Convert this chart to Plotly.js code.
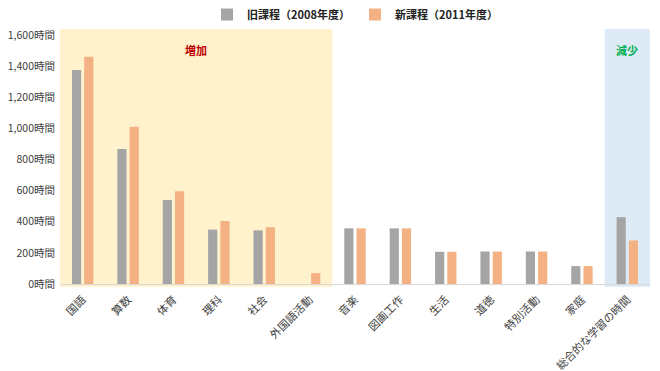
<!DOCTYPE html>
<html><head><meta charset="utf-8">
<script src="https://cdn.plot.ly/plotly-3.0.1.min.js"></script>
<style>body{margin:0;padding:0;background:#fff}#chart{width:660px;height:371px}</style>
</head><body><div id="chart"></div>
<script>
const categories = ['国語','算数','体育','理科','社会','外国語活動','音楽','図画工作','生活','道徳','特別活動','家庭','総合的な学習の時間'];
const oldHours = [1377, 869, 540, 350, 345, 0, 358, 358, 207, 209, 209, 115, 430];
const newHours = [1461, 1011, 597, 405, 365, 70, 358, 358, 207, 209, 209, 115, 280];
const oldName = '旧課程（2008年度）';
const newName = '新課程（2011年度）';
const yTicks = [0, 200, 400, 600, 800, 1000, 1200, 1400, 1600];
const yTickText = ['0時間', '200時間', '400時間', '600時間', '800時間', '1,000時間', '1,200時間', '1,400時間', '1,600時間'];

const font = '"Noto Sans CJK JP", "Noto Sans", sans-serif';
const data = [
  {type:'bar', name:oldName, x:categories, y:oldHours, marker:{color:'#A5A5A5'}, hoverinfo:'none'},
  {type:'bar', name:newName, x:categories, y:newHours, marker:{color:'#F4B183'}, hoverinfo:'none'}
];
const layout = {
  width:660, height:371,
  margin:{l:60, r:10, t:27, b:87},
  paper_bgcolor:'#fff', plot_bgcolor:'rgba(0,0,0,0)',
  font:{family:font, size:11, color:'#404040'},
  barmode:'group', bargap:0.46, bargroupgap:0.25,
  showlegend:true,
  legend:{orientation:'h', x:0.5, xanchor:'center', y:1.0, yanchor:'top', yref:'container',
          font:{family:font, size:11, color:'#222', weight:'bold'}, itemwidth:30, traceorder:'normal'},
  xaxis:{type:'category', tickangle:-45, showgrid:false, showline:true, linecolor:'#D9D9D9', linewidth:1,
         ticks:'', ticklabelstandoff:4, tickfont:{family:font, size:11, color:'#404040'}, range:[-0.5, 12.5], fixedrange:true},
  yaxis:{range:[0,1640], tickmode:'array', tickvals:yTicks, ticktext:yTickText, showgrid:false, zeroline:false,
         showline:false, ticks:'', ticklabelstandoff:4, tickfont:{family:font, size:10.5, color:'#404040'}, fixedrange:true},
  shapes:[
    {type:'rect', xref:'x', yref:'paper', x0:-0.5, x1:5.5, y0:-0.012, y1:1, fillcolor:'#FFF2CC', line:{width:0}, layer:'below'},
    {type:'rect', xref:'x', yref:'paper', x0:11.5, x1:12.5, y0:-0.012, y1:1, fillcolor:'#DEEBF7', line:{width:0}, layer:'below'}
  ],
  annotations:[
    {text:'<b>増加</b>', xref:'x', yref:'paper', x:2.5, y:0.955, showarrow:false, font:{family:font, size:11, color:'#C00000'}},
    {text:'<b>減少</b>', xref:'x', yref:'paper', x:12, y:0.955, showarrow:false, font:{family:font, size:11, color:'#00B050'}}
  ]
};
Plotly.newPlot('chart', data, layout, {displayModeBar:false, staticPlot:true});
</script></body></html>
